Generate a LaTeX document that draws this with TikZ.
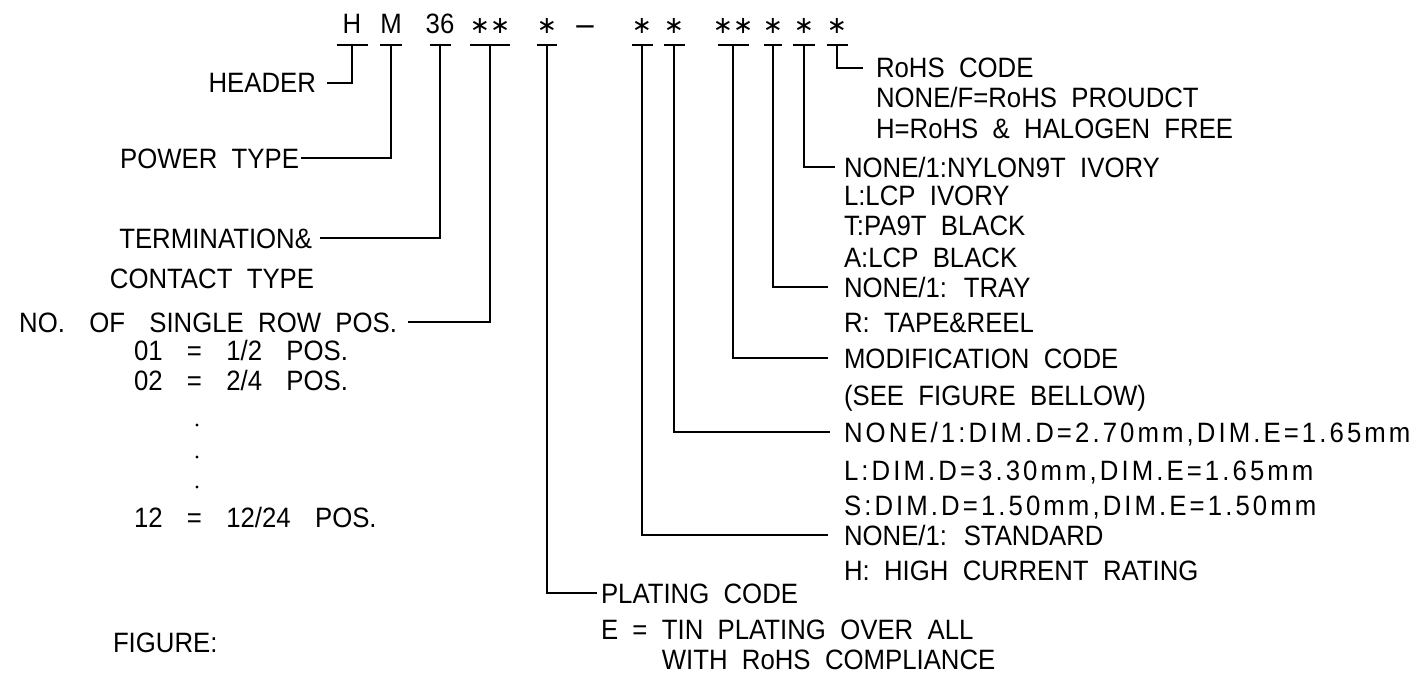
\documentclass[tikz,border=0pt]{standalone}
\usepackage{fontspec}
\setmainfont{Liberation Sans}[FakeStretch=0.92,WordSpace=2]
\newfontfamily\symfont{DejaVu Sans}
\newfontfamily\dimfont{Liberation Sans}[FakeStretch=0.92,LetterSpace=11,WordSpace=2]
\usepackage{tikz}
\usetikzlibrary{positioning,calc}
\newcommand\wgap{\hspace{10pt}}

\tikzset{
  txt/.style={font=\fontsize{28}{32}\selectfont, inner sep=0pt, text height=20pt, text depth=0pt},
  code/.style={txt},
  star/.style={txt, font=\fontsize{24}{28}\selectfont\symfont},
  lbl/.style={txt, anchor=east, inner xsep=#1},
  lbl/.default=3pt,
  rbl/.style={txt, anchor=west, inner xsep=#1},
  rbl/.default=3pt,
  sub/.style={txt, anchor=west},
}

\begin{document}
\begin{tikzpicture}[x=1pt,y=-1pt,line width=2pt]
  \useasboundingbox (0,0) rectangle (1420,674);
  % part number
  \node[code] (cH) at (352,24) {H};
  \node[code] (cM) at (391,24) {M};
  \node[code] (cSix) at (440,24) {36};
  \node[star] (cPos) at (490,24) {∗∗};
  \node[star] (cPlate) at (547,24) {∗};
  \node[code] (cDash) at (585,26) {\fontsize{34}{34}\selectfont –};
  \node[star] (cCur) at (642,24) {∗};
  \node[star] (cDim) at (674,24) {∗};
  \node[star] (cMod) at (733,24) {∗∗};
  \node[star] (cPack) at (773,24) {∗};
  \node[star] (cColor) at (804,24) {∗};
  \node[star] (cRohs) at (837,24) {∗};
  % tee bars under the code
  \foreach \n/\w in {H/15.5,M/11,Six/10.5,Pos/20,Plate/10,Cur/10.5,Dim/10.5,Mod/15.5,Pack/9,Color/11,Rohs/10.5}{
    \coordinate (t\n) at (c\n |- 0,45);
    \draw ([xshift=-\w pt]t\n) -- ([xshift=\w pt]t\n);
  }

  % left side
  \node[lbl=10pt] (lHeader) at (327,83) {HEADER};
  \node[lbl=1pt] (lPower) at (301,158) {POWER TYPE};
  \node[lbl=7pt] (lTerm) at (320,238) {TERMINATION\&};
  \node[txt] (lContact) at (212,278) {CONTACT TYPE};
  \node[lbl=10pt] (lRows) at (408,322) {NO. \wgap OF \wgap SINGLE ROW POS.};
  \node[sub] (nOne) at (133,350) {01 \wgap= \wgap1/2 \wgap POS.};
  \node[sub] (nTwo) at (133,380) {02 \wgap= \wgap2/4 \wgap POS.};
  \foreach \y in {425,457,487}
    \fill (197,\y) circle (1.6pt);
  \node[sub] (nLast) at (133,517) {12 \wgap= \wgap12/24 \wgap POS.};
  \node[sub] (lFigure) at (112,642) {FIGURE:};

  % right side
  \node[rbl=12pt] (rRohs) at (863,68) {RoHS CODE};
  \node[sub] (rRohsA) at (875,98) {NONE/F=RoHS PROUDCT};
  \node[sub] (rRohsB) at (875,128) {H=RoHS \& HALOGEN FREE};
  \node[rbl=8pt] (rColor) at (835,167) {NONE/1:NYLON9T IVORY};
  \node[sub] (rColorA) at (843,195) {L:LCP IVORY};
  \node[sub] (rColorB) at (843,225) {T:PA9T BLACK};
  \node[sub] (rColorC) at (843,257) {A:LCP BLACK};
  \node[rbl=15pt] (rPack) at (828,287) {NONE/1: TRAY};
  \node[sub] (rPackA) at (843,322) {R: TAPE\&REEL};
  \node[rbl=15pt] (rMod) at (828,358) {MODIFICATION CODE};
  \node[sub] (rModA) at (843,395) {(SEE FIGURE BELLOW)};
  \node[rbl=13pt] (rDim) at (830,432) {\dimfont NONE/1:DIM.D=2.70mm,DIM.E=1.65mm};
  \node[sub] (rDimA) at (843,470) {\dimfont L:DIM.D=3.30mm,DIM.E=1.65mm};
  \node[sub] (rDimB) at (843,505) {\dimfont S:DIM.D=1.50mm,DIM.E=1.50mm};
  \node[rbl=15pt] (rCur) at (828,535) {NONE/1: STANDARD};
  \node[sub] (rCurA) at (843,570) {H: HIGH CURRENT RATING};
  \node[rbl=3pt] (rPlate) at (597,593) {PLATING CODE};
  \node[sub] (rPlateA) at (600,629) {E = TIN PLATING OVER ALL};
  \node[sub] (rPlateB) at (600,659) {\phantom{E = }WITH RoHS COMPLIANCE};

  % leaders
  \draw (tH) |- (lHeader.east);
  \draw (tM) |- (lPower.east);
  \draw (tSix) |- (lTerm.east);
  \draw (tPos) |- (lRows.east);
  \draw (tPlate) |- (rPlate.west);
  \draw (tCur) |- (rCur.west);
  \draw (tDim) |- (rDim.west);
  \draw (tMod) |- (rMod.west);
  \draw (tPack) |- (rPack.west);
  \draw (tColor) |- (rColor.west);
  \draw (tRohs) |- (rRohs.west);
\end{tikzpicture}
\end{document}
